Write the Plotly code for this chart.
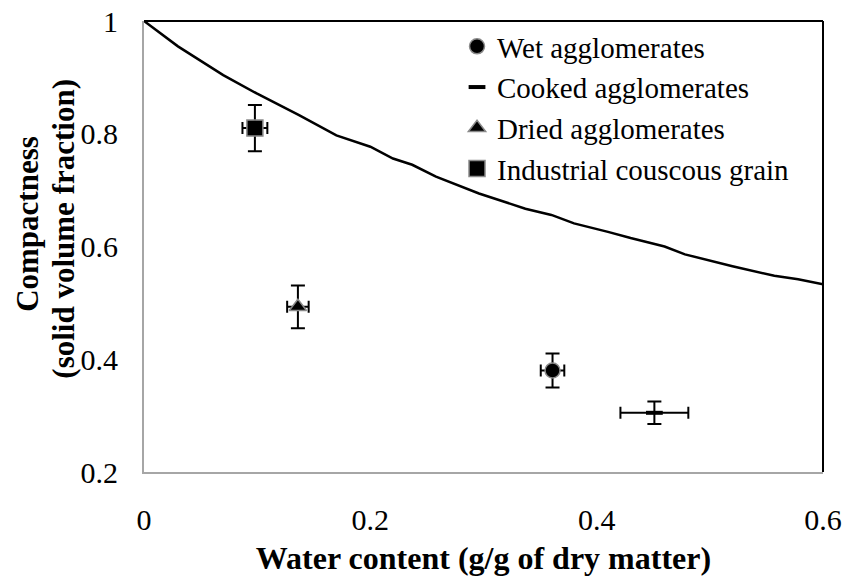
import plotly.graph_objects as go

# Theoretical saturation curve
curve_x = [0, 0.03, 0.07, 0.10, 0.137, 0.17, 0.20, 0.22, 0.237, 0.258, 0.296, 0.337,
           0.36, 0.38, 0.41, 0.43, 0.46, 0.478, 0.52, 0.557, 0.578, 0.6]
curve_y = [1.0, 0.955, 0.904, 0.871, 0.833, 0.797, 0.777, 0.756, 0.745, 0.724, 0.694, 0.667,
           0.656, 0.641, 0.626, 0.615, 0.600, 0.586, 0.565, 0.548, 0.542, 0.533]

series_names = ["Wet agglomerates", "Cooked agglomerates", "Dried agglomerates",
                "Industrial couscous grain"]
water = [0.361, 0.451, 0.136, 0.098]
compact = [0.380, 0.305, 0.493, 0.810]
water_err = [0.0104, 0.030, 0.0095, 0.011]
compact_err = [0.030, 0.020, 0.038, 0.041]

x_ticks = [0, 0.2, 0.4, 0.6]
x_tick_labels = ["0", "0.2", "0.4", "0.6"]
y_ticks = [0.2, 0.4, 0.6, 0.8, 1.0]
y_tick_labels = ["0.2", "0.4", "0.6", "0.8", "1"]

symbols = ["circle", "line-ew", "triangle-up", "square"]
sizes = [15, 12, 15, 16]

FONT = "Liberation Serif"

fig = go.Figure()
fig.add_trace(go.Scatter(x=curve_x, y=curve_y, mode="lines",
                         line=dict(color="black", width=2.5), showlegend=False,
                         hoverinfo="skip"))

for i, name in enumerate(series_names):
    if symbols[i] == "line-ew":
        marker = dict(symbol="line-ew", size=sizes[i], color="black",
                      line=dict(color="black", width=4))
    else:
        marker = dict(symbol=symbols[i], size=sizes[i], color="black",
                      line=dict(color="#8a8a8a", width=1.5))
    fig.add_trace(go.Scatter(
        x=[water[i]], y=[compact[i]], mode="markers", name=name, marker=marker,
        error_x=dict(type="data", array=[water_err[i]], color="black", thickness=2, width=6),
        error_y=dict(type="data", array=[compact_err[i]], color="black", thickness=2, width=7),
    ))

fig.update_layout(
    width=847, height=581,
    margin=dict(l=144, r=24, t=21, b=109, autoexpand=False),
    paper_bgcolor="white", plot_bgcolor="white",
    font=dict(family=FONT, color="black", size=30),
    legend=dict(x=0.461, y=1.0, xanchor="left", yanchor="top",
                bgcolor="rgba(0,0,0,0)", font=dict(size=29, family=FONT),
                tracegroupgap=0, itemwidth=30),
    showlegend=True,
)
fig.update_xaxes(range=[0, 0.6], tickvals=x_ticks, ticktext=x_tick_labels,
                 showgrid=False, zeroline=False, showline=True, linecolor="#a6a6a6",
                 linewidth=2, ticks="", tickfont=dict(size=30, family=FONT),
                 ticklabelstandoff=20, automargin=False, ticklabeloverflow="allow",
                 title=dict(text="<b>Water content (g/g of dry matter)</b>",
                            font=dict(size=32, family=FONT), standoff=12))
fig.update_yaxes(range=[0.2, 1.0], tickvals=y_ticks, ticktext=y_tick_labels,
                 showgrid=False, zeroline=False, showline=True, linecolor="#a6a6a6",
                 linewidth=2, ticks="", tickfont=dict(size=30, family=FONT),
                 ticklabelstandoff=18, automargin=False, ticklabeloverflow="allow")

# top and right plot-area border (black)
fig.add_shape(type="line", xref="paper", yref="paper", x0=0, x1=1, y0=1, y1=1,
              line=dict(color="black", width=2), layer="above")
fig.add_shape(type="line", xref="paper", yref="paper", x0=1, x1=1, y0=0, y1=1,
              line=dict(color="black", width=2), layer="above")

fig.add_annotation(text="<b>Compactness</b>",
                   xref="paper", yref="paper", x=-0.171, y=0.55, textangle=-90,
                   showarrow=False, font=dict(size=31, family=FONT),
                   xanchor="center", yanchor="middle")
fig.add_annotation(text="<b>(solid volume fraction)</b>",
                   xref="paper", yref="paper", x=-0.119, y=0.54, textangle=-90,
                   showarrow=False, font=dict(size=31, family=FONT),
                   xanchor="center", yanchor="middle")

# remove the default page margin so the figure sits at the window's corner
fig.write_html("out.html", config={"displayModeBar": False},
               post_script="document.body.style.margin='0';document.body.style.overflow='hidden';")
